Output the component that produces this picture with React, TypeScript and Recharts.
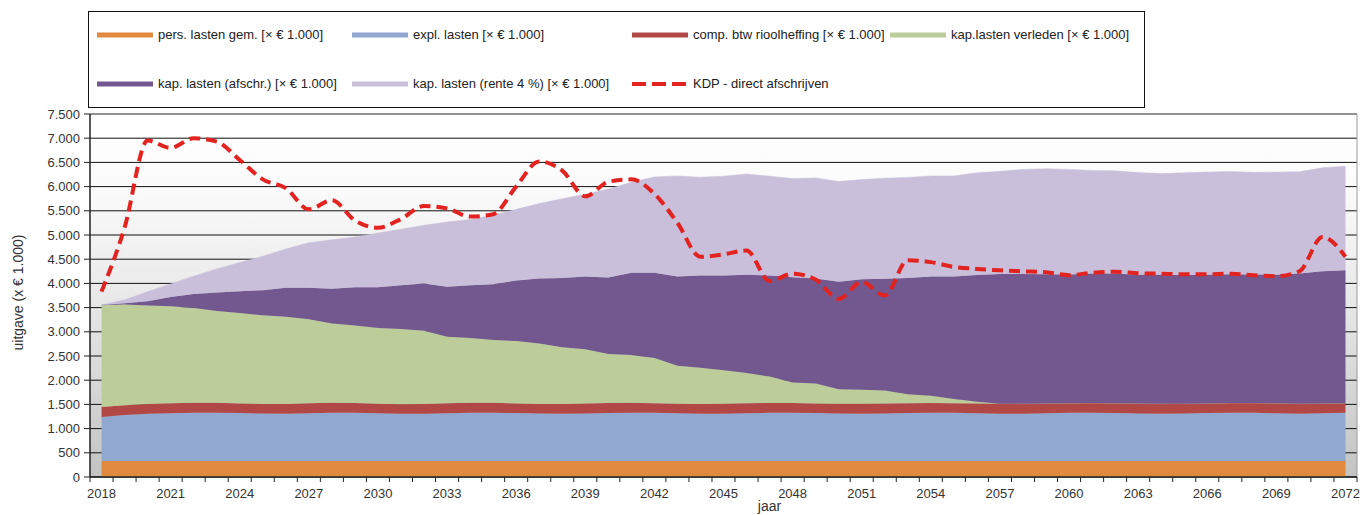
import React from 'react';
import { ComposedChart, Area, Line, XAxis, YAxis, CartesianGrid, Legend, ReferenceLine } from 'recharts';

const years = [
  2018, 2019, 2020, 2021, 2022, 2023, 2024, 2025, 2026, 2027,
  2028, 2029, 2030, 2031, 2032, 2033, 2034, 2035, 2036, 2037,
  2038, 2039, 2040, 2041, 2042, 2043, 2044, 2045, 2046, 2047,
  2048, 2049, 2050, 2051, 2052, 2053, 2054, 2055, 2056, 2057,
  2058, 2059, 2060, 2061, 2062, 2063, 2064, 2065, 2066, 2067,
  2068, 2069, 2070, 2071, 2072,
];

const persLasten = [
  330, 330, 330, 330, 330, 330, 330, 330, 330, 330,
  330, 330, 330, 330, 330, 330, 330, 330, 330, 330,
  330, 330, 330, 330, 330, 330, 330, 330, 330, 330,
  330, 330, 330, 330, 330, 330, 330, 330, 330, 330,
  330, 330, 330, 330, 330, 330, 330, 330, 330, 330,
  330, 330, 330, 330, 330,
];

const explLasten = [
  910, 950, 975, 985, 995, 1000, 990, 980, 975, 985,
  995, 995, 985, 975, 975, 985, 995, 1000, 990, 980,
  975, 980, 990, 1000, 995, 985, 975, 975, 985, 995,
  1000, 990, 980, 975, 980, 990, 1000, 995, 985, 975,
  975, 985, 995, 1000, 990, 980, 975, 980, 990, 1000,
  995, 985, 975, 985, 995,
];

const compBtw = [
  205, 200, 205, 210, 210, 205, 200, 200, 205, 210,
  210, 205, 200, 200, 205, 210, 210, 205, 200, 200,
  205, 210, 210, 205, 200, 200, 205, 210, 210, 205,
  200, 200, 205, 210, 210, 205, 200, 200, 205, 210,
  210, 205, 200, 200, 205, 210, 210, 205, 200, 200,
  205, 210, 210, 205, 200,
];

const kapVerleden = [
  2110, 2085, 2035, 2005, 1955, 1895, 1870, 1830, 1800, 1735,
  1635, 1600, 1565, 1555, 1510, 1375, 1335, 1295, 1290, 1250,
  1170, 1120, 1010, 985, 935, 785, 745, 690, 625, 545,
  425, 410, 300, 290, 265, 185, 150, 85, 35, 0,
  0, 0, 0, 0, 0, 0, 0, 0, 0, 0,
  0, 0, 0, 0, 0,
];

const kapAfschr = [
  0, 25, 85, 190, 290, 380, 450, 520, 600, 650,
  720, 790, 840, 900, 980, 1030, 1090, 1150, 1250, 1340,
  1430, 1500, 1580, 1700, 1760, 1840, 1910, 1960, 2030, 2090,
  2170, 2170, 2220, 2280, 2310, 2400, 2460, 2530, 2620, 2680,
  2680, 2670, 2660, 2675, 2680, 2660, 2665, 2660, 2660, 2660,
  2655, 2655, 2690, 2730, 2745,
];

const kapRente = [
  0, 70, 200, 270, 370, 490, 590, 700, 800, 930,
  1010, 1040, 1120, 1160, 1200, 1340, 1360, 1430, 1470, 1550,
  1640, 1700, 1830, 1870, 1980, 2080, 2030, 2050, 2080, 2050,
  2040, 2080, 2070, 2060, 2080, 2080, 2080, 2080, 2110, 2120,
  2160, 2180, 2170, 2130, 2120, 2110, 2090, 2110, 2120, 2120,
  2110, 2120, 2100, 2140, 2150,
];

const kdpDirect = [
  3830, 5150, 6950, 6800, 7000, 6930, 6550, 6150, 5970, 5530,
  5720, 5300, 5150, 5330, 5600, 5550, 5380, 5430, 6000, 6520,
  6330, 5800, 6100, 6150, 5850, 5250, 4550, 4600, 4680, 4050,
  4200, 4080, 3680, 4030, 3750, 4480, 4440, 4340, 4300, 4270,
  4250, 4230, 4170, 4220, 4240, 4210, 4200, 4190, 4190, 4200,
  4170, 4150, 4250, 4960, 4550,
];

const yTicks = [0, 500, 1000, 1500, 2000, 2500, 3000, 3500, 4000, 4500, 5000, 5500, 6000, 6500, 7000, 7500];
const xLabelYears = [2018, 2021, 2024, 2027, 2030, 2033, 2036, 2039, 2042, 2045, 2048, 2051, 2054, 2057, 2060, 2063, 2066, 2069, 2072];

const seriesNames: Record<string, string> = {
  pers: 'pers. lasten gem. [× € 1.000]',
  expl: 'expl. lasten [× € 1.000]',
  comp: 'comp. btw rioolheffing [× € 1.000]',
  verleden: 'kap.lasten verleden [× € 1.000]',
  afschr: 'kap. lasten (afschr.) [× € 1.000]',
  rente: 'kap. lasten (rente 4 %) [× € 1.000]',
  kdp: 'KDP - direct afschrijven',
};
const seriesColors: Record<string, string> = {
  pers: '#DF8A3E',
  expl: '#91A8D0',
  comp: '#B24846',
  verleden: '#BCCD99',
  afschr: '#73588F',
  rente: '#C9BFDA',
  kdp: '#E3231F',
};
const legendOrder = ['pers', 'expl', 'comp', 'verleden', 'afschr', 'rente', 'kdp'];

const data = years.map((year, i) => ({
  year,
  pers: persLasten[i],
  expl: explLasten[i],
  comp: compBtw[i],
  verleden: kapVerleden[i],
  afschr: kapAfschr[i],
  rente: kapRente[i],
  kdp: kdpDirect[i],
}));

const boundaryTicks = [...years.map((y) => y - 0.5), years[years.length - 1] + 0.5];
const xTicks = [...boundaryTicks, ...xLabelYears].sort((a, b) => a - b);

const FONT = 'Liberation Sans, Arial, sans-serif';

const fmt = (v: number) => String(v).replace(/\B(?=(\d{3})+(?!\d))/g, '.');

const XTick = (props: any) => {
  const { x, y, payload } = props;
  const v = payload.value;
  if (Number.isInteger(v)) {
    return (
      <text x={x} y={y + 21} textAnchor="middle" fontSize={13} fill="#333" fontFamily={FONT}>
        {v}
      </text>
    );
  }
  return <line x1={x} y1={y} x2={x} y2={y + 5} stroke="#222" strokeWidth={1} />;
};

const YLabel = (props: any) => {
  const vb = props.viewBox || { x: 0, y: 114, width: 90, height: 363 };
  const cx = vb.x + 18;
  const cy = vb.y + vb.height / 2 - 3;
  return (
    <text x={cx} y={cy} transform={`rotate(-90, ${cx}, ${cy})`} textAnchor="middle" dominantBaseline="central" fontSize={14} fill="#333" fontFamily={FONT}>
      uitgave (x € 1.000)
    </text>
  );
};

const XLabel = (props: any) => {
  const vb = props.viewBox || { x: 90, y: 477, width: 1267, height: 38 };
  return (
    <text x={vb.x + vb.width / 2 + 46} y={511} textAnchor="middle" fontSize={14} fill="#333" fontFamily={FONT}>
      jaar
    </text>
  );
};

const legendCols = [97, 352, 632, 890];
const legendRows = [35, 84];
const BOX_LEFT = 88;
const BOX_TOP = 11;

const renderLegend = (props: any) => {
  const payload: any[] = props.payload || [];
  const items = legendOrder
    .map((k) => payload.find((p) => p.dataKey === k))
    .filter(Boolean);
  return (
    <div style={{ position: 'relative', width: 0, height: 0 }}>
      <div
        style={{
          position: 'absolute',
          left: BOX_LEFT,
          top: BOX_TOP,
          width: 1057,
          height: 97,
          border: '1px solid #111',
          background: '#fff',
          boxSizing: 'border-box',
          fontFamily: FONT,
        }}
      >
        {items.map((it: any, i: number) => {
          const key = it.dataKey as string;
          const col = i % 4;
          const row = Math.floor(i / 4);
          const color = seriesColors[key];
          return (
            <div
              key={key}
              style={{
                position: 'absolute',
                left: legendCols[col] - BOX_LEFT - 1,
                top: legendRows[row] - BOX_TOP - 9,
                height: 16,
                display: 'flex',
                alignItems: 'center',
                whiteSpace: 'nowrap',
              }}
            >
              <svg width={56} height={8} style={{ display: 'block' }}>
                {key === 'kdp' ? (
                  <line x1={0} y1={4} x2={56} y2={4} stroke={color} strokeWidth={4} strokeDasharray="14 6" />
                ) : (
                  <line x1={0} y1={4} x2={56} y2={4} stroke={color} strokeWidth={5} />
                )}
              </svg>
              <span style={{ marginLeft: 5, fontSize: 13, color: '#222', lineHeight: '16px' }}>{seriesNames[key]}</span>
            </div>
          );
        })}
      </div>
    </div>
  );
};

export default function App() {
  return (
    <div style={{ position: 'absolute', left: 0, top: 0, width: 1362, height: 515, background: '#fff', overflow: 'hidden' }}>
      <ComposedChart width={1362} height={515} data={data} margin={{ top: 114, right: 5, bottom: 0, left: 0 }}>
        <defs>
          <linearGradient id="plotBg" x1="0" y1="0" x2="0" y2="1">
            <stop offset="0%" stopColor="#ffffff" />
            <stop offset="20%" stopColor="#fbfbfb" />
            <stop offset="50%" stopColor="#e9e9e9" />
            <stop offset="100%" stopColor="#c3c3c3" />
          </linearGradient>
        </defs>
        <CartesianGrid vertical={false} stroke="#111" strokeWidth={1} fill="url(#plotBg)" fillOpacity={1} />
        <XAxis
          dataKey="year"
          type="number"
          domain={[2017.5, 2072.5]}
          ticks={xTicks}
          interval={0}
          tick={<XTick />}
          tickSize={0}
          tickMargin={0}
          tickLine={false}
          axisLine={{ stroke: '#222', strokeWidth: 1.5 }}
          height={38}
          label={<XLabel />}
        />
        <YAxis
          type="number"
          domain={[0, 7500]}
          ticks={yTicks}
          interval={0}
          tickFormatter={fmt}
          width={90}
          tickSize={6}
          tickMargin={4}
          tick={{ fontSize: 13, fill: '#333', fontFamily: FONT }}
          tickLine={{ stroke: '#222' }}
          axisLine={{ stroke: '#222', strokeWidth: 1.5 }}
          label={<YLabel />}
        />
        <Legend content={renderLegend} wrapperStyle={{ position: 'absolute', left: 0, top: 0, width: 0, height: 0 }} />
        <Area type="linear" dataKey="pers" name={seriesNames.pers} stackId="s" fill={seriesColors.pers} stroke={seriesColors.pers} strokeWidth={0.5} fillOpacity={1} dot={false} activeDot={false} isAnimationActive={false} />
        <Area type="linear" dataKey="expl" name={seriesNames.expl} stackId="s" fill={seriesColors.expl} stroke={seriesColors.expl} strokeWidth={0.5} fillOpacity={1} dot={false} activeDot={false} isAnimationActive={false} />
        <Area type="linear" dataKey="comp" name={seriesNames.comp} stackId="s" fill={seriesColors.comp} stroke={seriesColors.comp} strokeWidth={0.5} fillOpacity={1} dot={false} activeDot={false} isAnimationActive={false} />
        <Area type="linear" dataKey="verleden" name={seriesNames.verleden} stackId="s" fill={seriesColors.verleden} stroke={seriesColors.verleden} strokeWidth={0.5} fillOpacity={1} dot={false} activeDot={false} isAnimationActive={false} />
        <Area type="linear" dataKey="afschr" name={seriesNames.afschr} stackId="s" fill={seriesColors.afschr} stroke={seriesColors.afschr} strokeWidth={0.5} fillOpacity={1} dot={false} activeDot={false} isAnimationActive={false} />
        <Area type="linear" dataKey="rente" name={seriesNames.rente} stackId="s" fill={seriesColors.rente} stroke={seriesColors.rente} strokeWidth={0.5} fillOpacity={1} dot={false} activeDot={false} isAnimationActive={false} />
        <ReferenceLine y={7500} stroke="#9a9a9a" strokeWidth={1} />
        <ReferenceLine x={2072.5} stroke="#9a9a9a" strokeWidth={1} />
        <Line type="monotone" dataKey="kdp" name={seriesNames.kdp} stroke={seriesColors.kdp} strokeWidth={4} strokeDasharray="11 6" dot={false} activeDot={false} isAnimationActive={false} />
      </ComposedChart>
    </div>
  );
}
